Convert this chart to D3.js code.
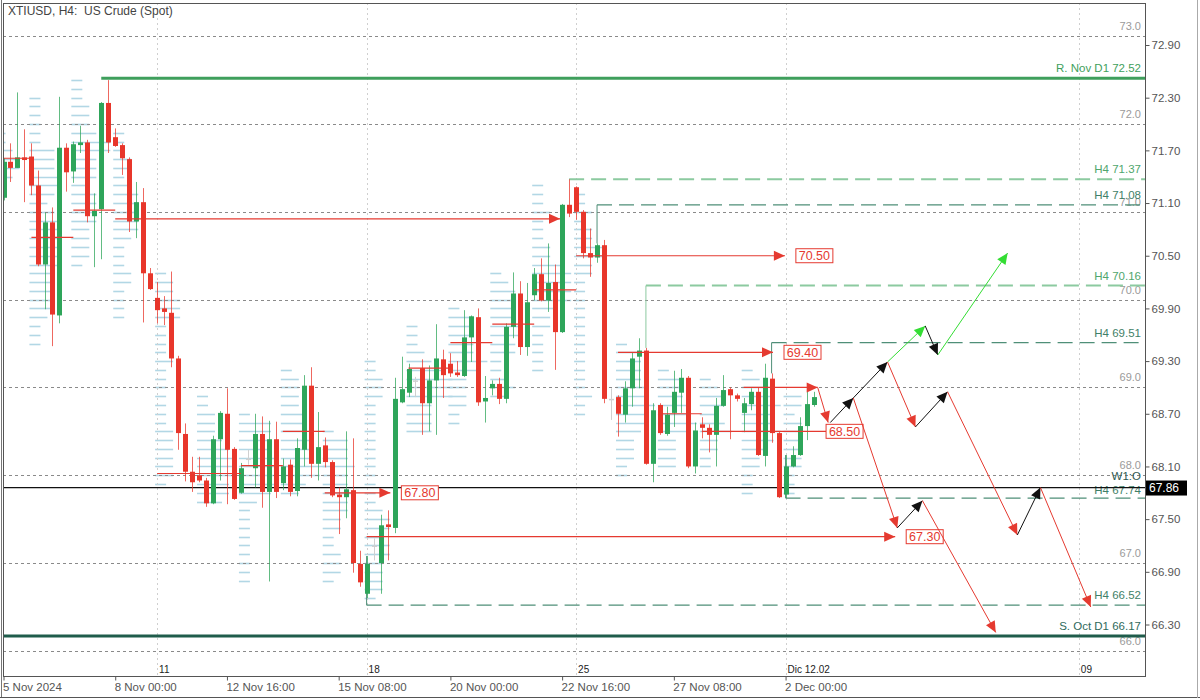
<!DOCTYPE html>
<html><head><meta charset="utf-8">
<script src="https://cdn.jsdelivr.net/npm/d3@7"></script>
<style>
body{margin:0;background:#fff;}
svg{display:block;}
text{font-family:"Liberation Sans",Arial,sans-serif;white-space:pre;}
</style>
</head><body>
<svg id="c" width="1200" height="700"></svg>
<script>
// ---------- DATA ----------
const opens  = [71.16,71.57,71.50,71.62,71.63,71.30,70.40,70.88,69.82,71.73,71.46,71.76,71.79,70.95,71.03,72.24,71.85,71.76,71.60,70.89,71.11,70.30,70.02,69.90,69.85,69.33,68.47,68.04,68.00,67.94,67.68,68.41,68.70,68.30,67.80,68.19,68.08,68.47,67.81,68.41,67.91,68.12,67.82,68.29,69.02,68.13,68.34,68.15,67.78,67.75,67.83,66.99,66.65,67.20,67.00,67.44,67.40,68.83,68.94,69.08,69.22,68.82,69.08,69.32,69.27,69.17,69.13,69.57,69.80,68.84,68.99,69.04,68.87,69.69,70.07,69.46,70.05,70.29,69.99,70.20,69.63,71.08,71.28,71.00,70.53,70.48,70.62,68.87,68.89,68.69,68.99,69.35,69.42,68.13,68.80,68.47,68.71,68.94,69.11,68.10,68.58,68.54,68.46,68.79,68.98,68.91,68.71,68.81,68.95,68.22,69.10,68.48,67.78,68.10,68.23,68.56,68.80];
const highs  = [71.61,71.78,72.36,71.94,71.78,71.47,70.99,71.05,72.31,71.78,71.80,71.98,71.82,71.21,72.25,72.50,71.95,71.78,71.62,71.34,71.27,70.36,70.20,70.04,70.32,69.36,68.59,68.21,68.21,67.97,68.45,68.73,68.99,68.32,68.14,68.29,68.70,68.67,68.62,68.61,68.19,68.18,68.42,69.14,69.23,68.72,68.43,68.17,67.86,68.50,68.42,67.14,67.08,67.28,67.55,67.60,69.11,69.35,69.27,69.12,69.32,69.25,69.72,69.43,69.39,69.30,69.88,69.82,69.90,69.13,69.08,69.11,69.73,70.31,70.21,70.19,70.36,70.47,70.64,70.40,71.09,71.37,71.29,71.02,70.81,70.64,70.68,68.99,68.91,69.07,69.40,69.56,69.45,68.82,68.82,68.78,69.19,69.21,69.13,68.60,68.66,68.58,68.88,69.14,69.00,68.93,68.88,68.99,69.00,69.27,69.16,68.50,68.23,68.33,68.66,68.95,68.95];
const lows   = [71.13,71.34,71.50,71.11,71.19,70.38,69.89,69.47,69.73,71.23,71.33,71.67,70.88,70.37,70.46,71.67,71.74,71.42,70.77,70.70,69.74,70.11,69.73,69.71,69.23,68.29,67.93,67.81,67.92,67.64,67.67,67.94,67.67,67.72,67.79,68.12,67.86,67.63,66.79,67.74,67.83,67.76,67.76,68.10,67.97,67.94,68.09,67.75,67.33,67.51,66.89,66.73,66.60,67.03,66.65,67.03,67.34,68.82,68.89,68.89,68.46,68.50,68.46,68.88,69.12,69.12,69.12,69.29,68.79,68.60,68.91,68.81,68.82,69.56,69.37,69.36,69.99,69.98,69.86,69.20,69.62,70.94,70.91,70.47,70.26,70.42,68.82,68.63,68.44,68.60,68.78,68.99,68.12,67.92,68.46,68.45,68.55,68.71,68.08,68.02,68.42,68.26,68.10,68.78,68.41,68.84,68.49,68.74,68.22,68.10,68.37,67.74,67.74,68.09,68.22,68.40,68.78];
const closes = [71.57,71.50,71.62,71.59,71.30,70.40,70.88,69.83,71.73,71.45,71.77,71.79,70.95,71.01,72.24,71.79,71.75,71.61,70.89,71.11,70.30,70.12,69.88,69.86,69.33,68.48,68.04,67.92,67.94,67.68,68.41,68.71,68.29,67.73,68.08,68.19,68.47,67.81,68.41,67.81,68.10,67.81,68.31,69.02,68.13,68.32,68.15,67.77,67.75,67.84,67.00,66.78,66.99,67.20,67.43,67.41,68.87,68.98,69.21,69.08,68.82,69.08,69.33,69.14,69.16,69.14,69.57,69.81,68.83,68.88,69.04,68.87,69.69,70.07,69.46,69.97,70.29,69.99,70.19,69.63,71.08,70.98,71.00,70.53,70.48,70.62,68.87,68.87,68.70,68.99,69.33,69.42,68.13,68.74,68.48,68.69,68.95,69.11,68.10,68.51,68.54,68.46,68.79,68.97,68.91,68.87,68.82,68.95,68.23,69.11,68.48,67.75,68.10,68.23,68.56,68.81,68.89];

const priceTicks = [72.90,72.30,71.70,71.10,70.50,69.90,69.30,68.70,68.10,67.50,66.90,66.30];
const gridPrices = [73,72,71,70,69,68,67,66];
const gridLabels = ["73.0","72.0","71.0","70.0","69.0","68.0","67.0","66.0"];
const dateTickIdx = [0,16,32,48,64,80,96,112];
const dateTickLabels = ["5 Nov 2024","8 Nov 00:00","12 Nov 16:00","15 Nov 08:00","20 Nov 00:00","22 Nov 16:00","27 Nov 08:00","2 Dec 00:00"];
const sepIdx = [22,52,82,112,154];
const sepLabels = ["11","18","25","Dic 12.02","09"];
const dayStarts = [-2,4,10,16,22,28,34,40,46,52,58,64,70,76,82,88,94,100,106,112];

// support / resistance lines
const srPrices = [72.52, 66.17];
const srLabels = ["R. Nov D1 72.52","S. Oct D1 66.17"];
const srStart  = [14, -1];
// H4 levels
const h4Prices = [71.37, 71.08, 70.16, 69.51, 67.74, 66.52];
const h4Labels = ["H4 71.37","H4 71.08","H4 70.16","H4 69.51","H4 67.74","H4 66.52"];
const h4Start  = [81, 85, 92, 110, 112, 52];
const h4Light  = [true, false, true, false, false, false];
// weekly open
const weeklyOpen = 67.86;

// red daily level segments: start idx, end idx, price, arrow, label
const segStart = [-1.5, 4, 10, 16, 22, 34, 40, 46, 52, 58, 64, 70, 76, 82, 88, 94, 100, 106];
const segEnd   = [4, 10, 16, 79.7, 34, 40, 46, 55.4, 127.7, 64, 70, 76, 82, 111.9, 110.2, 100, 117.8, 116.6];
const segPrice = [71.61, 70.71, 71.02, 70.92, 68.02, 68.11, 68.50, 67.80, 67.30, 69.22, 69.51, 69.72, 70.11, 70.50, 69.40, 68.70, 68.50, 69.00];
const segArrow = [false,false,false,true,false,false,false,true,true,false,false,false,false,true,true,false,false,true];
const segLabel = ["","","","","","","","67.80","67.30","","","","","70.50","69.40","","68.50",""];

// projection arrows: from idx, from price, to idx, to price, kind
const projFromIdx   = [116.6,118.4,121.7,126.6,132.0,133.8,126.6,130.6,135.2,145.2,148.5,121.7,128.0,131.6];
const projFromPrice = [69.00,68.60,68.88,69.29,69.70,69.37,69.29,68.55,68.95,67.32,67.86,68.88,67.40,67.71];
const projToIdx     = [118.1,121.7,126.6,132.0,133.8,143.8,130.6,135.2,145.2,148.5,155.7,128.0,131.6,142.1];
const projToPrice   = [68.60,68.88,69.29,69.70,69.37,70.53,68.55,68.95,67.32,67.86,66.50,67.40,67.71,66.21];
const projKind      = ["down","up","up","bull","up","bull","down","up","down","up","down","down","up","down"];

// ---------- DRAW ----------
const svg = d3.select("#c");
const L = 3, R = 1145, T = 3, B = 676;
const x = d3.scaleLinear().domain([0,116]).range([3.5,813.5]);
const y = d3.scaleLinear().domain([66.30,72.90]).range([624.5,45]);

svg.append("rect").attr("width",1200).attr("height",700).attr("fill","#fff");
svg.append("defs").append("clipPath").attr("id","pc").append("rect")
  .attr("x",L).attr("y",T).attr("width",R-L).attr("height",B-T);
const g = svg.append("g").attr("clip-path","url(#pc)");

// profile (TPO count per 0.1 level and day)
const prof = g.append("g");
dayStarts.forEach(s=>{
  const idx = d3.range(Math.max(0,s), Math.min(117,s+6));
  if(!idx.length) return;
  const lo = d3.min(idx,i=>lows[i]), hi = d3.max(idx,i=>highs[i]);
  for(let k=Math.ceil(lo*10); k<=Math.floor(hi*10); k++){
    const lv = k/10;
    const cnt = idx.filter(i=>lows[i]<=lv && highs[i]>=lv).length;
    const x0 = x(s)-2;
    prof.append("line").attr("x1",x0).attr("x2",x0+4+cnt*7).attr("y1",Math.round(y(lv))+0.5).attr("y2",Math.round(y(lv))+0.5)
      .attr("stroke","#b2d7e5").attr("stroke-width",1.6);
  }
});

// grid
gridPrices.forEach((p,i)=>{
  g.append("line").attr("x1",L).attr("x2",R).attr("y1",Math.round(y(p))+0.5).attr("y2",Math.round(y(p))+0.5)
    .attr("stroke","#8a8a8a").attr("stroke-dasharray","3,3");
  g.append("text").attr("x",1141).attr("y",y(p)-6).attr("text-anchor","end")
    .attr("font-size",11).attr("fill","#9a9a9a").text(gridLabels[i]);
});
sepIdx.forEach((s,i)=>{
  g.append("line").attr("x1",Math.round(x(s))+0.5).attr("x2",Math.round(x(s))+0.5).attr("y1",T).attr("y2",B)
    .attr("stroke","#cfcfcf").attr("stroke-dasharray","2,3");
  g.append("text").attr("x",x(s)+2).attr("y",673).attr("font-size",10).attr("fill","#222").text(sepLabels[i]);
});

// S/R lines
srPrices.forEach((p,i)=>{
  g.append("line").attr("x1",x(srStart[i])).attr("x2",R).attr("y1",y(p)).attr("y2",y(p))
    .attr("stroke", i===0?"#3f9f5c":"#1f5c4b").attr("stroke-width",3);
  g.append("text").attr("x",1141).attr("y",y(p)-6).attr("text-anchor","end").attr("font-size",11.5)
    .attr("fill", i===0?"#3f9f5c":"#2f6a5c").text(srLabels[i]);
});

// H4 levels
h4Prices.forEach((p,i)=>{
  const col = h4Light[i] ? "#8ccaa0" : "#4f8f78";
  const xs = x(h4Start[i]);
  g.append("line").attr("x1",xs).attr("x2",R).attr("y1",y(p)).attr("y2",y(p))
    .attr("stroke",col).attr("stroke-width",h4Light[i]?2:1.3).attr("stroke-dasharray","15,7");
  g.append("line").attr("x1",xs).attr("x2",xs).attr("y1",y(p)).attr("y2",y(highs[h4Start[i]]))
    .attr("stroke",col).attr("stroke-width",1);
  g.append("text").attr("x",1141).attr("y", i===4 ? y(p)-4 : y(p)-6).attr("text-anchor","end").attr("font-size",11.5)
    .attr("fill", h4Light[i]?"#4fa66d":"#3f7f68").text(h4Labels[i]);
});

// weekly open
g.append("line").attr("x1",L).attr("x2",R).attr("y1",y(weeklyOpen)).attr("y2",y(weeklyOpen))
  .attr("stroke","#111").attr("stroke-width",1.2);
g.append("text").attr("x",1141).attr("y",y(weeklyOpen)-8).attr("text-anchor","end").attr("font-size",11.5)
  .attr("fill","#2f5a52").text("W1:O");

// candles
const cg = g.append("g");
opens.forEach((o,i)=>{
  const c = closes[i];
  const up = c>o, doji = c===o;
  const col = doji ? "#d0d0d0" : (up ? "#2ea55a" : "#e8362b");
  const cx = Math.round(x(i))+0.5;
  cg.append("line").attr("x1",cx).attr("x2",cx).attr("y1",y(highs[i])).attr("y2",y(lows[i]))
    .attr("stroke",col).attr("stroke-opacity",doji?1:0.75).attr("stroke-width",1);
  const top = y(Math.max(o,c)), bot = y(Math.min(o,c));
  cg.append("rect").attr("x",cx-2.5).attr("width",5).attr("y",top).attr("height",Math.max(1.5,bot-top))
    .attr("fill",col);
});

// arrows helper
function arrow(x1,y1,x2,y2,col,w){
  g.append("line").attr("x1",x1).attr("y1",y1).attr("x2",x2).attr("y2",y2).attr("stroke",col).attr("stroke-width",w||1.2);
  const a = Math.atan2(y2-y1,x2-x1), Lh=11, Hw=5;
  const bx = x2-Lh*Math.cos(a), by = y2-Lh*Math.sin(a);
  const p1=[bx+Hw*Math.sin(a), by-Hw*Math.cos(a)], p2=[bx-Hw*Math.sin(a), by+Hw*Math.cos(a)];
  g.append("path").attr("d",`M${x2},${y2}L${p1[0]},${p1[1]}L${p2[0]},${p2[1]}Z`).attr("fill",col);
}

// red level segments
const red = "#e53a30";
segPrice.forEach((p,i)=>{
  const x1 = x(segStart[i]), x2 = x(segEnd[i]), yy = y(p);
  if(segArrow[i]) arrow(x1,yy,x2,yy,red,1.2);
  else g.append("line").attr("x1",x1).attr("x2",x2).attr("y1",yy).attr("y2",yy).attr("stroke",red).attr("stroke-width",1.2);
  if(segLabel[i]){
    const bx = segArrow[i] ? x2+11 : x2;
    g.append("rect").attr("x",bx).attr("y",yy-7).attr("width",37).attr("height",14)
      .attr("fill","#fff").attr("stroke",red).attr("stroke-width",1);
    g.append("text").attr("x",bx+18.5).attr("y",yy+4.5).attr("text-anchor","middle").attr("font-size",12.5)
      .attr("fill",red).text(segLabel[i]);
  }
});

// projections
const kindCol = {down:"#e53a30", up:"#111", bull:"#33dd33"};
projKind.forEach((k,i)=>{
  arrow(x(projFromIdx[i]),y(projFromPrice[i]),x(projToIdx[i]),y(projToPrice[i]),kindCol[k],1);
});

// frame
svg.append("rect").attr("x",L+0.5).attr("y",T+0.5).attr("width",R-L).attr("height",B-T)
  .attr("fill","none").attr("stroke","#555");
svg.append("line").attr("x1",1.5).attr("x2",1.5).attr("y1",0).attr("y2",697).attr("stroke","#777");
svg.append("line").attr("x1",0).attr("x2",1200).attr("y1",697.5).attr("y2",697.5).attr("stroke","#555");
svg.append("line").attr("x1",1197.5).attr("x2",1197.5).attr("y1",0).attr("y2",698).attr("stroke","#aaa");

// axes
const ay = svg.append("g").attr("transform",`translate(${R+0.5},0)`)
  .call(d3.axisRight(y).tickValues(priceTicks).tickSize(4).tickFormat(d3.format(".2f")));
ay.select(".domain").remove();
ay.selectAll("line").attr("stroke","#555");
ay.selectAll("text").attr("font-size",11.5).attr("fill","#555").attr("x",6)
  .style("font-family","'Liberation Sans',Arial,sans-serif");

const ax = svg.append("g").attr("transform",`translate(0,${B+0.5})`)
  .call(d3.axisBottom(x).tickValues(dateTickIdx).tickSize(4).tickFormat((d,i)=>dateTickLabels[i]));
ax.select(".domain").remove();
ax.selectAll("line").attr("stroke","#555");
ax.selectAll("text").attr("font-size",11.5).attr("fill","#555").attr("text-anchor","start").attr("x",-1).attr("y",6)
  .style("font-family","'Liberation Sans',Arial,sans-serif");

// weekly open price tag
svg.append("rect").attr("x",R+1).attr("y",y(weeklyOpen)-7).attr("width",41).attr("height",15).attr("fill","#000");
svg.append("text").attr("x",R+4).attr("y",y(weeklyOpen)+4.5).attr("font-size",12).attr("fill","#fff").text(weeklyOpen.toFixed(2));

// title
svg.append("text").attr("x",8).attr("y",15).attr("font-size",12).attr("fill","#444").text("XTIUSD, H4:\u00a0\u00a0US Crude (Spot)");
</script>
</body></html>
